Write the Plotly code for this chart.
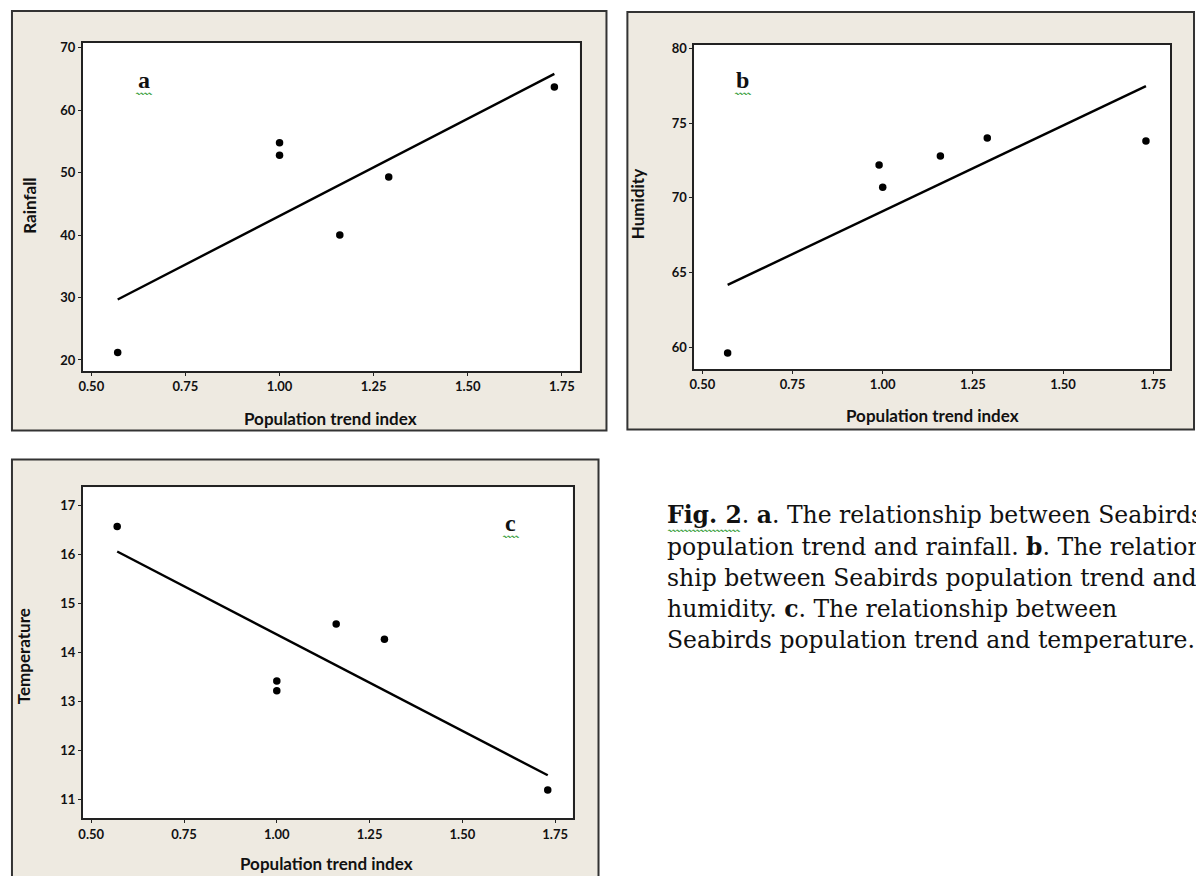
import numpy as np
import plotly.graph_objects as go

# ---------------- data ----------------
pop_index_a = [0.57, 1.00, 1.00, 1.16, 1.29, 1.73]
rainfall = [21.2, 54.8, 52.8, 40.0, 49.3, 63.7]

pop_index_b = [0.57, 0.99, 1.00, 1.16, 1.29, 1.73]
humidity = [59.6, 72.2, 70.7, 72.8, 74.0, 73.8]

pop_index_c = [0.57, 1.00, 1.00, 1.16, 1.29, 1.73]
temperature = [16.57, 13.42, 13.22, 14.58, 14.27, 11.2]

x_ticks = [0.50, 0.75, 1.00, 1.25, 1.50, 1.75]
x_tick_text = ["0.50", "0.75", "1.00", "1.25", "1.50", "1.75"]
y_ticks_a = [20, 30, 40, 50, 60, 70]
y_ticks_b = [60, 65, 70, 75, 80]
y_ticks_c = [11, 12, 13, 14, 15, 16, 17]

panel_letters = ["a", "b", "c"]
y_titles = ["Rainfall", "Humidity", "Temperature"]
x_title = "Population trend index"
caption_lines = [
    "<b>Fig. 2</b>. <b>a</b>. The relationship between Seabirds",
    "population trend and rainfall. <b>b</b>. The relation-",
    "ship between Seabirds population trend and",
    "humidity. <b>c</b>. The relationship between",
    "Seabirds population trend and temperature.",
]

# ---------------- layout helpers ----------------
W, H = 1196, 876
def px(x):
    return x / W
def py(y):
    return 1 - y / H

BEIGE = "#EEEAE1"
TICKFONT = dict(family="Lato", size=13, color="#111")
TITLEFONT = dict(family="Lato", size=17, color="#111")

fig = go.Figure()

panels = [
    (pop_index_a, rainfall, "x", "y", (78, 577, 38, 368), [18.25, 70.8], y_ticks_a),
    (pop_index_b, humidity, "x2", "y2", (692, 1170, 40, 366), [58.54, 80.25], y_ticks_b),
    (pop_index_c, temperature, "x3", "y3", (78, 570, 485, 818), [10.62, 17.37], y_ticks_c),
]
x_range = [0.477, 1.797]

for i, (xs, ys, xa, ya, box, yr, yt) in enumerate(panels):
    xs_arr = np.array(xs)
    ys_arr = np.array(ys)
    slope, intercept = np.polyfit(xs_arr, ys_arr, 1)
    fx = np.array([xs_arr.min(), xs_arr.max()])
    fy = slope * fx + intercept
    fig.add_trace(go.Scatter(x=fx, y=fy, mode="lines", xaxis=xa, yaxis=ya,
                             line=dict(color="black", width=2.4), showlegend=False))
    fig.add_trace(go.Scatter(x=xs, y=ys, mode="markers", xaxis=xa, yaxis=ya,
                             marker=dict(color="black", size=7.5), showlegend=False))
    l, r, t, b = box
    suffix = "" if i == 0 else str(i + 1)
    axis_common = dict(showline=True, linecolor="#222", linewidth=1.5, mirror=True,
                       ticks="outside", ticklen=3, tickcolor="#222", tickwidth=1,
                       showgrid=False, zeroline=False, tickfont=TICKFONT)
    fig.layout["xaxis" + suffix] = dict(
        domain=[px(l), px(r)], range=x_range, anchor="y" + suffix,
        tickvals=x_ticks, ticktext=["<b>%s</b>" % s for s in x_tick_text], **axis_common)
    fig.layout["yaxis" + suffix] = dict(
        domain=[py(b), py(t)], range=yr, anchor="x" + suffix,
        tickvals=yt, ticktext=["<b>%s</b>" % v for v in yt], **axis_common)

# outer beige boxes
outer_boxes = [(7, 604, 6, 428), (625, 1194, 7, 427), (7, 596, 457, 880)]
shapes = []
for (l, r, t, b) in outer_boxes:
    shapes.append(dict(type="rect", xref="paper", yref="paper", x0=px(l), x1=px(r),
                       y0=py(b), y1=py(t), fillcolor=BEIGE,
                       line=dict(color="#333", width=2), layer="below"))
for (_, _, _, _, box, _, _) in panels:
    l, r, t, b = box
    shapes.append(dict(type="rect", xref="paper", yref="paper", x0=px(l), x1=px(r),
                       y0=py(b), y1=py(t), fillcolor="white", line=dict(width=0),
                       layer="below"))

annotations = []
x_title_pos = [(327, 416), (931, 413), (323, 863)]
y_title_pos = [(25, 202), (636, 200), (18, 655)]
for i in range(3):
    annotations.append(dict(text="<b>%s</b>" % x_title, xref="paper", yref="paper",
                            x=px(x_title_pos[i][0]), y=py(x_title_pos[i][1]),
                            showarrow=False, font=TITLEFONT, xanchor="center", yanchor="middle"))
    annotations.append(dict(text="<b>%s</b>" % y_titles[i], xref="paper", yref="paper",
                            x=px(y_title_pos[i][0]), y=py(y_title_pos[i][1]),
                            showarrow=False, font=TITLEFONT, textangle=-90,
                            xanchor="center", yanchor="middle"))
letter_pos = [(140, 75), (741, 75), (508, 521)]
for i in range(3):
    annotations.append(dict(text="<b>%s</b>" % panel_letters[i], xref="paper", yref="paper",
                            x=px(letter_pos[i][0]), y=py(letter_pos[i][1]), showarrow=False,
                            font=dict(family="Liberation Serif", size=24, color="#111"),
                            xanchor="center", yanchor="middle"))
    annotations.append(dict(text="〰〰", xref="paper", yref="paper",
                            x=px(letter_pos[i][0]), y=py(letter_pos[i][1] + 14), showarrow=False,
                            font=dict(family="DejaVu Sans", size=8, color="#3aa03a"),
                            xanchor="center", yanchor="middle"))
cap_y = [513, 545, 576, 607, 639]
for line, y in zip(caption_lines, cap_y):
    annotations.append(dict(text=line, xref="paper", yref="paper", x=px(663), y=py(y),
                            showarrow=False, xanchor="left", yanchor="middle",
                            font=dict(family="DejaVu Serif", size=23.5, color="#111")))
# spelling squiggle under "Fig. 2"
annotations.append(dict(text="〰〰〰〰〰〰〰〰〰", xref="paper", yref="paper", x=px(663), y=py(529),
                        showarrow=False, xanchor="left", yanchor="middle",
                        font=dict(family="DejaVu Sans", size=8, color="#3aa03a")))

fig.update_layout(width=W, height=H, margin=dict(l=0, r=0, t=0, b=0),
                  paper_bgcolor="white", plot_bgcolor="rgba(0,0,0,0)",
                  shapes=shapes, annotations=annotations, showlegend=False)

fig.write_html("out.html", config={"displayModeBar": False},
               post_script="document.body.style.margin='0';document.body.style.overflow='hidden';")
